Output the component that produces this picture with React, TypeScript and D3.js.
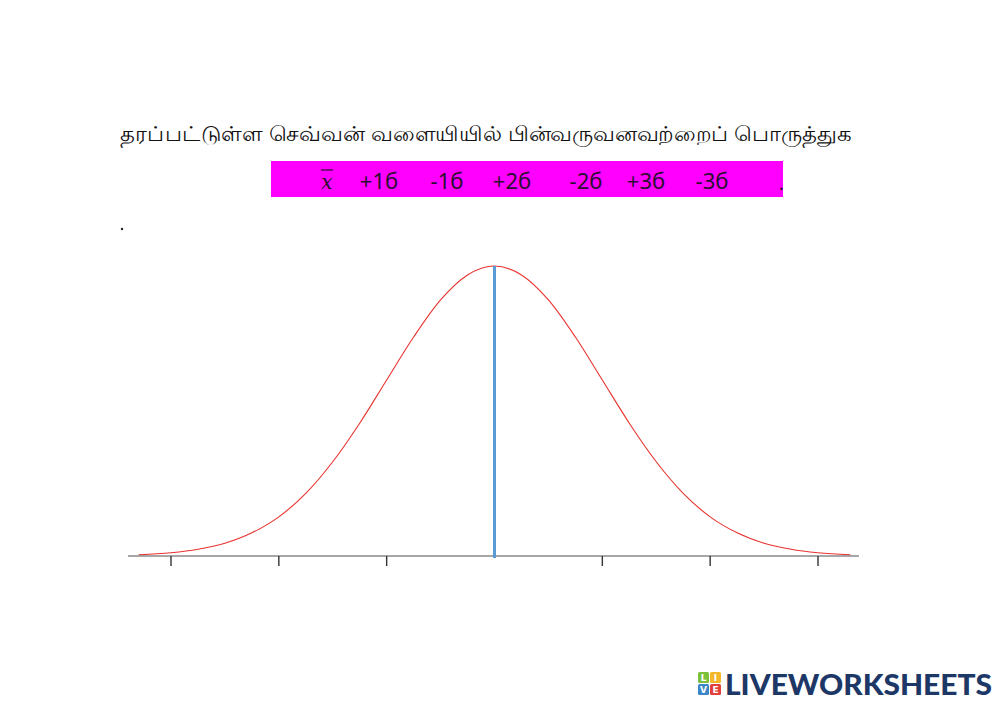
import React from "react";
import * as d3 from "d3";

// z positions (in standard deviations) and relative heights of the bell curve
const zValues = [-3.3, -3.0, -2.75, -2.5, -2.25, -2.0, -1.75, -1.5, -1.25, -1.0, -0.75, -0.5, -0.25, 0, 0.25, 0.5, 0.75, 1.0, 1.25, 1.5, 1.75, 2.0, 2.25, 2.5, 2.75, 3.0, 3.3];
const heights = [0.004, 0.011, 0.023, 0.044, 0.080, 0.135, 0.216, 0.325, 0.458, 0.607, 0.755, 0.883, 0.969, 1.0, 0.969, 0.883, 0.755, 0.607, 0.458, 0.325, 0.216, 0.135, 0.080, 0.044, 0.023, 0.011, 0.004];
const tickZ = [-3, -2, -1, 0, 1, 2, 3];
const title = "தரப்பட்டுள்ள செவ்வன் வளையியில் பின்வருவனவற்றைப் பொருத்துக";
const labels = ["+1б", "-1б", "+2б", "-2б", "+3б", "-3б"];
const labelX = [379, 447, 512, 586, 646, 712];

export default function App() {
  const x = d3.scaleLinear().domain([-3, 3]).range([171, 818]);
  const y = d3.scaleLinear().domain([0, 1]).range([556, 266]);
  const line = d3
    .line<number>()
    .x((_, i) => x(zValues[i]))
    .y((d) => y(d))
    .curve(d3.curveMonotoneX);
  const path = line(heights) || "";
  const font = "'Noto Sans', 'Open Sans', 'DejaVu Sans', sans-serif";
  return (
    <svg
      width={1000}
      height={704}
      style={{ position: "absolute", left: 0, top: 0, background: "#fff" }}
    >
      <text x={120} y={141} fontFamily={font} fontSize={21} fill="#111" textLength={731} lengthAdjust="spacingAndGlyphs">
        {title}
      </text>
      <rect x={271} y={161} width={512} height={36} fill="#ff00ff" />
      <text x={327} y={189} fontFamily="'DejaVu Serif', serif" fontStyle="italic" fontSize={20} fill="#2a1030" textAnchor="middle">
        x
      </text>
      <line x1={321} x2={333} y1={170} y2={170} stroke="#2a1030" strokeWidth={1.2} />
      {labels.map((l, i) => (
        <text key={l} x={labelX[i]} y={189} fontFamily={font} fontSize={22} fill="#2a1030" textAnchor="middle">
          {l}
        </text>
      ))}
      <text x={779} y={190} fontFamily={font} fontSize={18} fill="#2a1030">.</text>
      <circle cx={122} cy={229} r={1.2} fill="#222" />

      <path d={path} fill="none" stroke="#e8332f" strokeWidth={1.1} />
      <line x1={128} x2={859} y1={556} y2={556} stroke="#8a8a8a" strokeWidth={1.5} />
      {tickZ.filter((t) => t !== 0).map((t) => (
        <line key={t} x1={x(t)} x2={x(t)} y1={556} y2={566} stroke="#333" strokeWidth={1.4} />
      ))}
      <line x1={x(0)} x2={x(0)} y1={y(1)} y2={558} stroke="#5b9bd5" strokeWidth={3} />

      {/* logo */}
      <g>
        <rect x={698} y={672} width={11} height={11} rx={1.5} fill="#7cbf3a" />
        <rect x={710} y={672} width={11} height={11} rx={1.5} fill="#f5b72a" />
        <rect x={698} y={684} width={11} height={11} rx={1.5} fill="#3a86c8" />
        <rect x={710} y={684} width={11} height={11} rx={1.5} fill="#e2403a" />
        <text x={703.5} y={681} fontSize={9} fontWeight="bold" fill="#fff" textAnchor="middle" fontFamily="'DejaVu Sans', sans-serif">L</text>
        <text x={715.5} y={681} fontSize={9} fontWeight="bold" fill="#fff" textAnchor="middle" fontFamily="'DejaVu Sans', sans-serif">I</text>
        <text x={703.5} y={693} fontSize={9} fontWeight="bold" fill="#fff" textAnchor="middle" fontFamily="'DejaVu Sans', sans-serif">V</text>
        <text x={715.5} y={693} fontSize={9} fontWeight="bold" fill="#fff" textAnchor="middle" fontFamily="'DejaVu Sans', sans-serif">E</text>
        <text x={725} y={695} fontSize={29} fontWeight={900} fill="#1d3766" fontFamily="'Lato', 'Open Sans', sans-serif" textLength={267} lengthAdjust="spacingAndGlyphs">
          LIVEWORKSHEETS
        </text>
      </g>
    </svg>
  );
}
